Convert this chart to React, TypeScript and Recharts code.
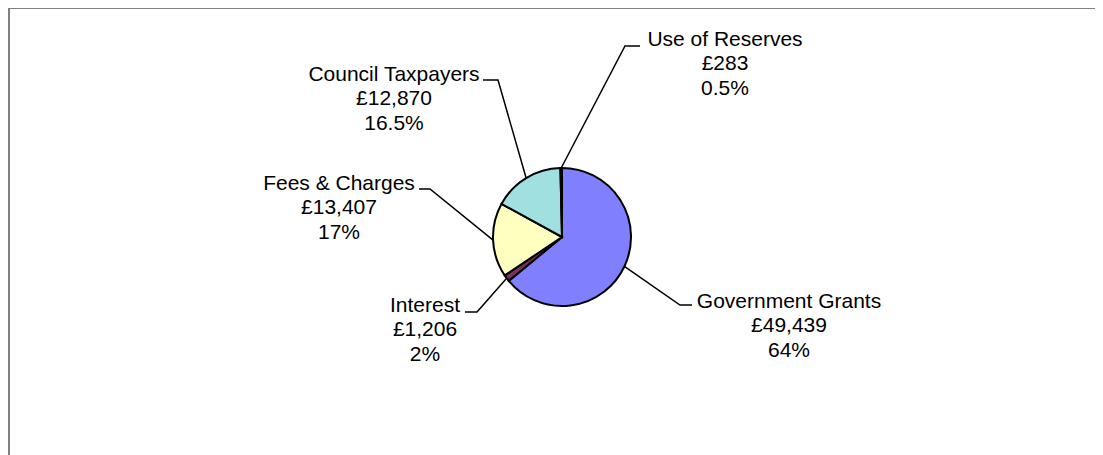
import React from "react";
import { PieChart, Pie, Cell } from "recharts";

// income sources (£000)
const categories = [
  "Government Grants",
  "Interest",
  "Fees & Charges",
  "Council Taxpayers",
  "Use of Reserves",
];
const amounts = [49439, 1206, 13407, 12870, 283];
const percentLabels = ["64%", "2%", "17%", "16.5%", "0.5%"];
const sliceColors = ["#8080FF", "#7F2F5F", "#FFFFC0", "#A0E0E0", "#600060"];

// where each label sits, relative to the pie centre (elbow of leader, tail, text centre)
const labelLayout = [
  { elbow: [118, 68], tail: 12, text: [227, 63] },
  { elbow: [-85, 75], tail: -12, text: [-137, 67] },
  { elbow: [-132, -48], tail: -11, text: [-223, -55] },
  { elbow: [-64, -157], tail: -15, text: [-168, -164] },
  { elbow: [63, -191], tail: 15, text: [163, -199] },
];

const data = categories.map((name, i) => ({
  name,
  value: amounts[i],
  pct: percentLabels[i],
}));

const RAD = Math.PI / 180;
const fmt = (v: number) => "£" + v.toLocaleString("en-GB");

const renderLabel = (props: any) => {
  const { cx, cy, midAngle, outerRadius, index, name, value } = props;
  const lay = labelLayout[index];
  const sx = cx + outerRadius * Math.cos(-midAngle * RAD);
  const sy = cy + outerRadius * Math.sin(-midAngle * RAD);
  const ex = cx + lay.elbow[0];
  const ey = cy + lay.elbow[1];
  const tx = cx + lay.text[0];
  const ty = cy + lay.text[1];
  const lines = [name, fmt(value), percentLabels[index]];
  return (
    <g key={`lbl-${index}`}>
      <polyline
        points={`${sx},${sy} ${ex},${ey} ${ex + lay.tail},${ey}`}
        fill="none"
        stroke="#000"
        strokeWidth={1.5}
      />
      {lines.map((t, j) => (
        <text
          key={j}
          x={tx}
          y={ty + j * 24.5}
          textAnchor="middle"
          dominantBaseline="central"
          fontSize={21}
          fill="#000"
        >
          {t}
        </text>
      ))}
    </g>
  );
};

export default function App() {
  return (
    <div
      style={{
        width: 1200,
        height: 500,
        marginTop: -1,
        borderTop: "2px solid #808080",
        borderLeft: "2px solid #808080",
        fontFamily: "'Liberation Sans', Arial, sans-serif",
        background: "#fff",
      }}
    >
      <style>{`html,body{overflow:hidden}`}</style>
      <PieChart width={1093} height={445} margin={{ top: 0, right: 0, bottom: 0, left: 0 }}>
        <Pie
          data={data}
          dataKey="value"
          nameKey="name"
          cx={552}
          cy={228}
          outerRadius={69}
          startAngle={90}
          endAngle={-270}
          stroke="#000"
          strokeWidth={2}
          label={renderLabel}
          labelLine={false}
          isAnimationActive={false}
        >
          {data.map((d, i) => (
            <Cell key={d.name} fill={sliceColors[i]} />
          ))}
        </Pie>
      </PieChart>
    </div>
  );
}
